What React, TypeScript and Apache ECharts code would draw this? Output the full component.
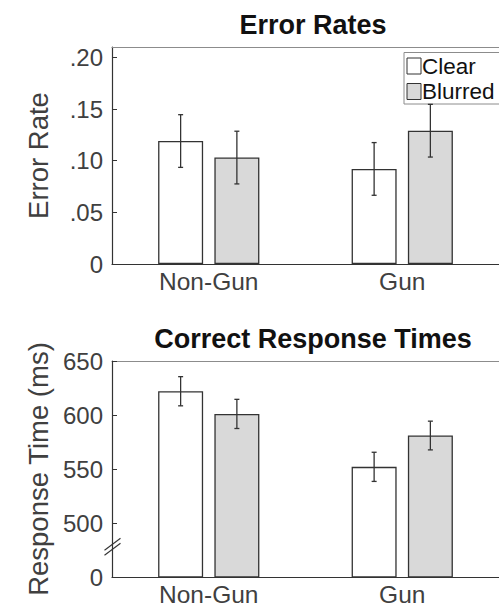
import React, { useEffect, useRef } from "react";
import * as echarts from "echarts";

// Conditions on the x axis
const conditions = ["Non-Gun", "Gun"];

// Error rates (mean and standard error)
const errorRateClear = [0.119, 0.092];
const errorRateBlurred = [0.103, 0.129];
const errorRateClearSE = [0.0255, 0.0255];
const errorRateBlurredSE = [0.0255, 0.0255];

// Correct response times in ms (mean and standard error)
const rtClear = [622, 552];
const rtBlurred = [601, 581];
const rtClearSE = [13.5, 13.5];
const rtBlurredSE = [13.5, 13.3];

// Tick values and their printed labels
const errorRateTickValues = [0, 0.05, 0.1, 0.15, 0.2];
const errorRateTickLabels = ["0", ".05", ".10", ".15", ".20"];
// the response-time axis is broken: its bottom tick stands for 0
const rtTickValues = [450, 500, 550, 600, 650];
const rtTickLabels = ["0", "500", "550", "600", "650"];
const rtBreakValue = 478;

const seriesNames = ["Clear", "Blurred"];

const W = 499;
const H = 607;
const GRID_LEFT = 112;
const GRID_RIGHT = -5;
const BAR_WIDTH = 45;
const BAR_GAP = 0.25;
const BAR_OFFSET = (BAR_WIDTH * (1 + BAR_GAP)) / 2;

const INK = "#333333";
const LABEL = "#404040";
const GREY_FILL = "#d9d9d9";
const FONT = "Liberation Sans";

function tickFormatter(values: number[], labels: string[]) {
  return (v: number) => {
    const i = values.findIndex((t) => Math.abs(t - v) < 1e-9);
    return i >= 0 ? labels[i] : "";
  };
}

function bottomCategoryAxis(gridIndex: number) {
  return {
    type: "category",
    gridIndex,
    data: conditions,
    position: "bottom",
    axisLine: { lineStyle: { color: INK, width: 1.2 } },
    axisTick: { inside: true, alignWithLabel: true, length: 5, lineStyle: { color: INK } },
    axisLabel: {
      fontFamily: FONT,
      fontSize: 24.5,
      color: LABEL,
      margin: 5,
    },
  };
}

function topBoxAxis(gridIndex: number) {
  return {
    type: "category",
    gridIndex,
    data: conditions,
    position: "top",
    axisLine: { lineStyle: { color: "#8c8c8c", width: 1.2 } },
    axisTick: { inside: true, alignWithLabel: true, length: 5, lineStyle: { color: INK } },
    axisLabel: { show: false },
  };
}

function valueAxisStyle() {
  return {
    nameLocation: "middle",
    nameRotate: 90,
    nameGap: 60,
    nameTextStyle: { fontFamily: FONT, fontSize: 27.5, color: LABEL },
    splitLine: { show: false },
    axisLine: { show: true, lineStyle: { color: INK, width: 1.2 } },
    axisTick: { show: true, inside: true, length: 5, lineStyle: { color: INK } },
  };
}

function barSeries(
  name: string,
  xAxisIndex: number,
  yAxisIndex: number,
  values: number[],
  fill: string
) {
  return {
    type: "bar",
    name,
    xAxisIndex,
    yAxisIndex,
    data: values,
    barWidth: BAR_WIDTH,
    barGap: `${BAR_GAP * 100}%`,
    itemStyle: { color: fill, borderColor: INK, borderWidth: 1.3 },
    emphasis: { disabled: true },
  };
}

function errorBarSeries(
  xAxisIndex: number,
  yAxisIndex: number,
  values: number[],
  ses: number[],
  offset: number
) {
  return {
    type: "custom",
    xAxisIndex,
    yAxisIndex,
    z: 5,
    silent: true,
    data: values.map((v, i) => [i, v, ses[i]]),
    renderItem: (_params: any, api: any) => {
      const i = api.value(0);
      const v = api.value(1);
      const e = api.value(2);
      const hi = api.coord([i, v + e]);
      const lo = api.coord([i, v - e]);
      const x = hi[0] + offset;
      const cap = 2.5;
      const style = { stroke: INK, lineWidth: 1.3 };
      return {
        type: "group",
        children: [
          { type: "line", shape: { x1: x, y1: hi[1], x2: x, y2: lo[1] }, style },
          { type: "line", shape: { x1: x - cap, y1: hi[1], x2: x + cap, y2: hi[1] }, style },
          { type: "line", shape: { x1: x - cap, y1: lo[1], x2: x + cap, y2: lo[1] }, style },
        ],
      };
    },
  };
}

function buildOption() {
  const titleStyle = { fontFamily: FONT, fontWeight: "bold", fontSize: 27, color: "#111" };
  const tickLabel = { fontFamily: FONT, fontSize: 24, color: LABEL, margin: 9 };
  return {
    animation: false,
    backgroundColor: "#ffffff",
    title: [
      { text: "Error Rates", left: 308, top: 6, textAlign: "center", textStyle: titleStyle },
      {
        text: "Correct Response Times",
        left: 308,
        top: 320,
        textAlign: "center",
        textStyle: titleStyle,
      },
    ],
    legend: {
      data: seriesNames,
      orient: "vertical",
      left: 404,
      top: 52.5,
      padding: [2, 8, 1, 2.5],
      itemWidth: 14,
      itemHeight: 16,
      itemGap: 2.5,
      backgroundColor: "#ffffff",
      borderColor: "#8c8c8c",
      borderWidth: 1,
      selectedMode: false,
      icon: "rect",
      itemStyle: { borderColor: INK, borderWidth: 1 },
      textStyle: {
        fontFamily: FONT,
        fontSize: 22.5,
        lineHeight: 20,
        color: "#111",
        padding: [0, 0, 0, -4],
      },
    },
    grid: [
      { left: GRID_LEFT, right: GRID_RIGHT, top: 47, bottom: H - 264 },
      { left: GRID_LEFT, right: GRID_RIGHT, top: 361, bottom: H - 578 },
    ],
    xAxis: [bottomCategoryAxis(0), topBoxAxis(0), bottomCategoryAxis(1), topBoxAxis(1)],
    yAxis: [
      {
        type: "value",
        gridIndex: 0,
        min: 0,
        max: 0.21,
        interval: 0.05,
        name: "Error Rate",
        ...valueAxisStyle(),
        axisLabel: {
          ...tickLabel,
          showMaxLabel: false,
          formatter: tickFormatter(errorRateTickValues, errorRateTickLabels),
        },
      },
      {
        type: "value",
        gridIndex: 1,
        min: 450,
        max: 650,
        interval: 50,
        name: "Response Time (ms)",
        ...valueAxisStyle(),
        axisLabel: {
          ...tickLabel,
          formatter: tickFormatter(rtTickValues, rtTickLabels),
        },
      },
    ],
    series: [
      barSeries(seriesNames[0], 0, 0, errorRateClear, "#ffffff"),
      barSeries(seriesNames[1], 0, 0, errorRateBlurred, GREY_FILL),
      errorBarSeries(0, 0, errorRateClear, errorRateClearSE, -BAR_OFFSET),
      errorBarSeries(0, 0, errorRateBlurred, errorRateBlurredSE, BAR_OFFSET),
      barSeries(seriesNames[0], 2, 1, rtClear, "#ffffff"),
      barSeries(seriesNames[1], 2, 1, rtBlurred, GREY_FILL),
      errorBarSeries(2, 1, rtClear, rtClearSE, -BAR_OFFSET),
      errorBarSeries(2, 1, rtBlurred, rtBlurredSE, BAR_OFFSET),
    ],
  };
}

export default function App() {
  const ref = useRef<HTMLDivElement>(null);

  useEffect(() => {
    if (!ref.current) return;
    const chart = echarts.init(ref.current, undefined, { renderer: "svg", width: W, height: H });
    chart.setOption(buildOption() as any);

    // axis-break marks on the response-time axis
    const yb = chart.convertToPixel({ yAxisIndex: 1 }, rtBreakValue) as number;
    const xb = GRID_LEFT + 0.5;
    const dx = 8;
    const dy = 6;
    const sep = 2.5;
    const stroke = { stroke: INK, lineWidth: 1.1 };
    chart.setOption({
      graphic: [
        {
          type: "group",
          z: 100,
          children: [
            {
              type: "rect",
              shape: { x: xb - 2, y: yb - sep, width: 4, height: sep * 2 },
              style: { fill: "#ffffff" },
            },
            {
              type: "line",
              shape: { x1: xb - dx, y1: yb - sep + dy, x2: xb + dx, y2: yb - sep - dy },
              style: stroke,
            },
            {
              type: "line",
              shape: { x1: xb - dx, y1: yb + sep + dy, x2: xb + dx, y2: yb + sep - dy },
              style: stroke,
            },
          ],
        },
      ],
    });

    return () => chart.dispose();
  }, []);

  return (
    <div
      ref={ref}
      style={{ position: "absolute", left: 0, top: 0, width: W, height: H, overflow: "hidden" }}
    />
  );
}
